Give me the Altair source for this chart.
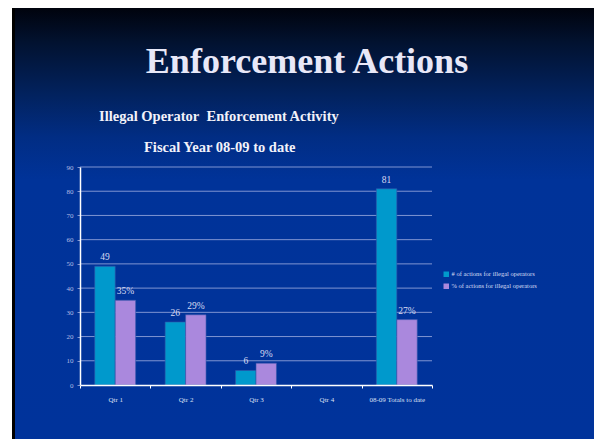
import altair as alt
import pandas as pd

categories = ["Qtr 1", "Qtr 2", "Qtr 3", "Qtr 4", "08-09 Totals to date"]
count_values = [49, 26, 6, None, 81]
pct_values = [35, 29, 9, None, 27]
series_names = ["# of actions for illegal operators", "% of actions for illegal operators"]
series_colors = ["#0099cc", "#aa88dd"]
y_ticks = [0, 10, 20, 30, 40, 50, 60, 70, 80, 90]

rows = []
for c, n, p in zip(categories, count_values, pct_values):
    rows.append({"cat": c, "series": series_names[0], "value": n,
                 "label": "" if n is None else f"{n}"})
    rows.append({"cat": c, "series": series_names[1], "value": p,
                 "label": "" if p is None else f"{p}%"})
df = pd.DataFrame(rows)
grid_df = pd.DataFrame({"value": y_ticks[1:]})

W, H = 352, 218
PL, PT, PR, PB = 72, 159, 162, 54
FONT = "Liberation Serif"
GRID = "#7f95d2"

one = alt.Data(values=[{"k": 1}])

gradient = {
    "gradient": "linear", "x1": 0, "y1": 0, "x2": 0, "y2": 1,
    "stops": [
        {"offset": 0.0, "color": "#00030d"},
        {"offset": 0.08, "color": "#021230"},
        {"offset": 0.2, "color": "#02225e"},
        {"offset": 0.3, "color": "#012d84"},
        {"offset": 0.4, "color": "#003399"},
        {"offset": 1.0, "color": "#00339b"},
    ],
}

strip = alt.Chart(one).mark_rect(color="#000000").encode(
    x=alt.value(-PL + 4), x2=alt.value(-PL + 8),
    y=alt.value(-PT), y2=alt.value(H + PB),
)
bg = alt.Chart(one).mark_rect(color=gradient).encode(
    x=alt.value(-PL + 7), x2=alt.value(W + PR),
    y=alt.value(-PT), y2=alt.value(H + PB),
)

x_enc = alt.X(
    "cat:N",
    scale=alt.Scale(domain=categories, paddingInner=0, paddingOuter=0),
    axis=alt.Axis(title=None, labelAngle=0, tickBand="extent", domainColor="#ffffff",
                  domainWidth=1.5, tickColor="#ffffff", tickSize=3, labelFont=FONT,
                  labelFontSize=7, labelColor="#dce0f4", labelPadding=7, grid=False,
                  zindex=1),
)
y_axis = alt.Axis(title=None, values=y_ticks, grid=False, tickColor=GRID, tickSize=3,
                  domainColor="#ffffff", domainWidth=1.5, labelFont=FONT, labelFontSize=7,
                  labelColor="#b4bfe6", labelPadding=4, labelOverlap=False, zindex=1)
y_scale = alt.Scale(domain=[0, 90], nice=False)

grid = alt.Chart(grid_df).mark_rule(color=GRID, strokeWidth=1).encode(
    y=alt.Y("value:Q", scale=y_scale, axis=y_axis),
)

bars = alt.Chart(df).mark_bar(strokeWidth=0.6, stroke="#3355aa").encode(
    x=x_enc,
    y=alt.Y("value:Q", scale=y_scale, axis=y_axis),
    xOffset=alt.XOffset("series:N", sort=series_names,
                        scale=alt.Scale(paddingOuter=0.72, paddingInner=0)),
    color=alt.Color("series:N", sort=series_names,
                    scale=alt.Scale(domain=series_names, range=series_colors),
                    legend=alt.Legend(title=None, orient="none", legendX=363, legendY=104,
                                      symbolType="square", symbolSize=30, symbolStrokeWidth=0,
                                      labelFont=FONT, labelFontSize=6.5,
                                      labelColor="#d8def4", rowPadding=5, labelOffset=2)),
)

labels = alt.Chart(df).mark_text(font=FONT, fontSize=9.5, color="#d8dcf2",
                                 baseline="bottom", dy=-4).encode(
    x=alt.X("cat:N"),
    y=alt.Y("value:Q", scale=y_scale, axis=y_axis),
    xOffset=alt.XOffset("series:N", sort=series_names),
    text="label:N",
)

title = alt.Chart(one).mark_text(text="Enforcement Actions", font=FONT, fontSize=36,
                                 fontWeight="bold", color="#e8e8f8", align="center",
                                 baseline="alphabetic").encode(
    x=alt.value(227), y=alt.value(-94))
sub1 = alt.Chart(one).mark_text(text="Illegal Operator\u00a0 Enforcement Activity", font=FONT,
                                fontSize=14.5, fontWeight="bold", color="#f2f2fa",
                                align="left", baseline="alphabetic").encode(
    x=alt.value(19), y=alt.value(-46))
sub2 = alt.Chart(one).mark_text(text="Fiscal Year 08-09 to date", font=FONT,
                                fontSize=14.5, fontWeight="bold", color="#f2f2fa",
                                align="left", baseline="alphabetic").encode(
    x=alt.value(64), y=alt.value(-15))

chart = alt.layer(strip, bg, grid, bars, labels, title, sub1, sub2).properties(
    width=W, height=H,
    autosize=alt.AutoSizeParams(type="none"),
    padding={"left": PL, "top": PT, "right": PR, "bottom": PB},
    background="#ffffff",
).configure_view(stroke=None)

chart.save("out.html", embed_options={"renderer": "svg", "actions": False})
